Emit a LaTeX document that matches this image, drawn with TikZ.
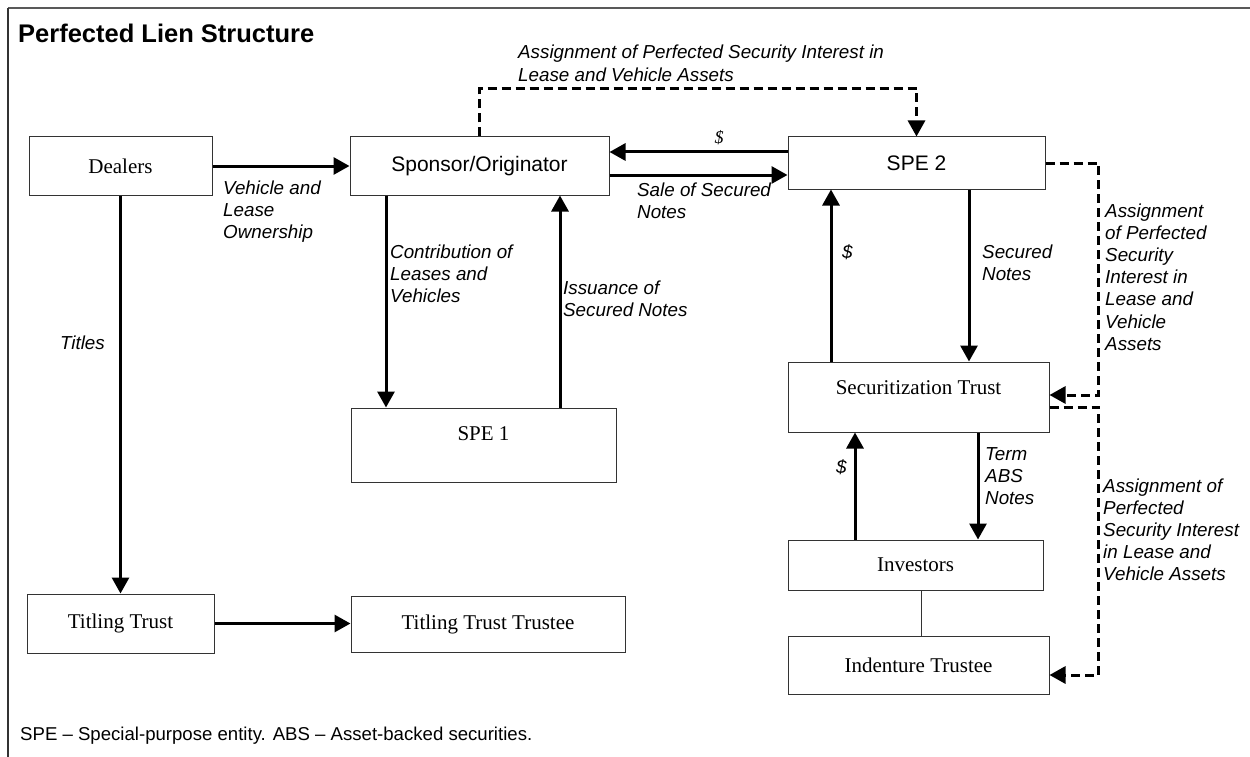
\documentclass[tikz,border=0pt]{standalone}
\usepackage{fontspec}
\setmainfont{Liberation Serif}
\setsansfont{Liberation Sans}
\usetikzlibrary{arrows.meta,positioning,calc}
\tikzset{
  box/.style={draw=black!80, line width=1pt, align=center, inner sep=0pt, font=\fontsize{21}{25}\selectfont},
  sbox/.style={box, font=\sffamily\fontsize{21}{25}\selectfont},
  arrow/.style={-{Triangle[length=16pt,width=17pt]}, line width=3pt},
  dashedarrow/.style={arrow, dash pattern=on 9pt off 5pt},
  lbl/.style={font=\sffamily\itshape\fontsize{18.8}{22.2}\selectfont, align=left, anchor=base west, inner sep=0pt}
}

\begin{document}
\begin{tikzpicture}[x=1pt,y=-1pt]
  \useasboundingbox (0,0) rectangle (1250,757);
  \draw[black!65, line width=2pt] (8,8) -- (1250,8);
  \draw[black!80, line width=1.2pt] (8,8) -- (8,757);
  \node[anchor=base west, inner sep=0pt, font=\sffamily\bfseries\fontsize{25.5}{30}\selectfont] (title) at (18,43) {Perfected Lien Structure};

  \node[box, minimum width=183pt, minimum height=58pt] (dealers) at (120.5,166) {Dealers};
  \node[sbox, minimum width=259pt, minimum height=58pt] (sponsor) at (479.5,166) {Sponsor/Originator};
  \node[sbox, minimum width=257pt, minimum height=52pt] (spetwo) at (916.5,163) {SPE 2};
  \node[box, minimum width=265pt, text height=32pt, text depth=42pt] (speone) at (483.5,445) {SPE 1};
  \node[box, minimum width=261pt, text height=32pt, text depth=38pt] (sectrust) at (918.5,397) {Securitization Trust};
  \node[box, minimum width=255pt, minimum height=50pt] (investors) at (915.5,565) {Investors};
  \node[box, minimum width=261pt, minimum height=58pt] (indenture) at (918.5,665) {Indenture Trustee};
  \node[box, minimum width=187pt, minimum height=59pt] (titling) at (120.5,623.5) {Titling Trust};
  \node[box, minimum width=274pt, minimum height=56pt] (trustee) at (488,624) {Titling Trust Trustee};

  \draw[arrow] (dealers) -- (sponsor);
  \draw[arrow] (dealers) -- (titling);
  \draw[arrow] (titling.east) -- (titling.east -| trustee.west);
  \draw[arrow] ([xshift=-93.5pt]sponsor.south) -- ([xshift=-93.5pt]sponsor.south |- speone.north);
  \draw[arrow] ([xshift=80.5pt]sponsor.south |- speone.north) -- ([xshift=80.5pt]sponsor.south);
  \draw[arrow] ([yshift=11pt]spetwo.west) -- ([yshift=11pt]spetwo.west -| sponsor.east);
  \draw[arrow] ([yshift=-9pt]sponsor.east) -- ([yshift=-9pt]sponsor.east -| spetwo.west);
  \draw[arrow] ([xshift=-85.5pt]spetwo.south |- sectrust.north) -- ([xshift=-85.5pt]spetwo.south);
  \draw[arrow] ([xshift=52.5pt]spetwo.south) -- ([xshift=52.5pt]spetwo.south |- sectrust.north);
  \draw[arrow] ([xshift=-60.5pt]investors.north) -- ([xshift=-60.5pt]investors.north |- sectrust.south);
  \draw[arrow] ([xshift=62.5pt]investors.north |- sectrust.south) -- ([xshift=62.5pt]investors.north);
  \draw[black!80, line width=1pt] ([xshift=5.5pt]investors.south) -- ([xshift=5.5pt]investors.south |- indenture.north);
  \draw[dashedarrow] (sponsor.north) -- ++(0,-48) -| (spetwo.north);
  \draw[dashedarrow] (spetwo.east) -- ++(53,0) |- ([yshift=2pt]sectrust.east);
  \draw[dashedarrow] ([yshift=-10pt]sectrust.east) -- ++(49,0) |- ([yshift=-10pt]indenture.east);

  \node[lbl] (ownlbl) at (223,238.4) {Vehicle and\\Lease\\Ownership};
  \node[lbl, anchor=base east] (titleslbl) at (105,349) {Titles};
  \node[lbl] (contriblbl) at (390,302.4) {Contribution of\\Leases and\\Vehicles};
  \node[lbl] (issuelbl) at (563,316.2) {Issuance of\\Secured Notes};
  \node[lbl, anchor=base, font=\itshape\fontsize{18}{22}\selectfont] (payone) at (719,143) {\$};
  \node[lbl] (salelbl) at (637,218.2) {Sale of Secured\\Notes};
  \node[lbl] (assigntop) at (518,81.2) {Assignment of Perfected Security Interest in\\Lease and Vehicle Assets};
  \node[lbl] (paytwo) at (842,258) {\$};
  \node[lbl] (notelbl) at (982,280.2) {Secured\\Notes};
  \node[lbl] (assignright) at (1105,350.2) {Assignment\\of Perfected\\Security\\Interest in\\Lease and\\Vehicle\\Assets};
  \node[lbl] (assignlow) at (1103,580.8) {Assignment of\\Perfected\\Security Interest\\in Lease and\\Vehicle Assets};
  \node[lbl] (paythree) at (836,473) {\$};
  \node[lbl] (abslbl) at (985,504.4) {Term\\ABS\\Notes};
  \node[anchor=base west, inner sep=0pt, font=\sffamily\fontsize{18.6}{22}\selectfont] (note) at (20,740) {SPE – Special-purpose entity. ABS – Asset-backed securities.};
\end{tikzpicture}
\end{document}
